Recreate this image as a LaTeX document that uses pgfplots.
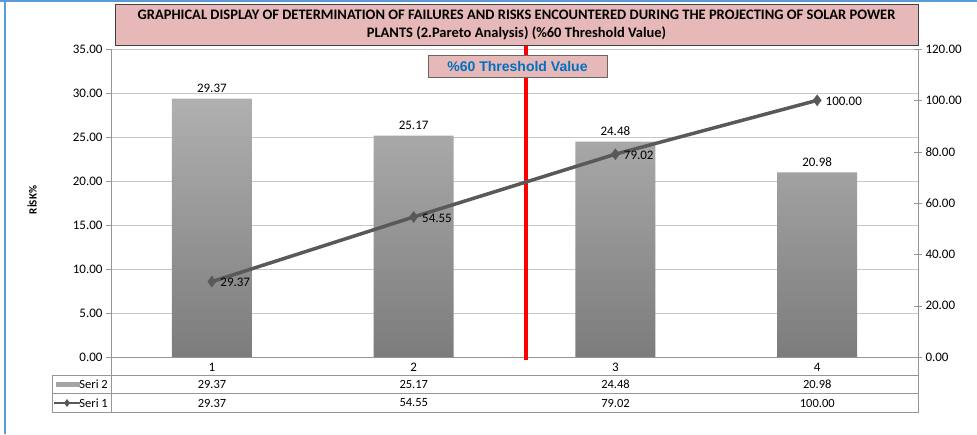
\documentclass[border=0pt]{standalone}
\usepackage{pgfplots}
\pgfplotsset{compat=1.18}
\usepackage{fontspec}
\setmainfont{Carlito}
\newfontfamily\arialfont{Liberation Sans}
\definecolor{pinkbox}{RGB}{230,184,183}
\definecolor{linegray}{RGB}{89,89,89}
\definecolor{gridgray}{RGB}{200,200,200}
\definecolor{axisgray}{RGB}{150,150,150}
\definecolor{threshblue}{RGB}{0,112,192}
\definecolor{frameblue}{RGB}{91,155,213}
\definecolor{bartop}{RGB}{176,176,176}
\definecolor{barbot}{RGB}{124,124,124}
\begin{document}
\begin{tikzpicture}
\begin{scope}[x=1pt,y=1pt]
\useasboundingbox (0,0) rectangle (977,434);
\fill[white] (0,0) rectangle (977,434);
\draw[frameblue, line width=2pt] (5,0) -- (5,434);
\draw[frameblue, line width=2pt] (0,433) -- (977,433);
\end{scope}

\begin{axis}[at={(111pt,77pt)}, anchor=south west, scale only axis,
  width=807pt, height=308pt,
  xmin=0.5, xmax=4.5, ymin=0, ymax=35,
  ytick={0,5,...,35}, xtick={1,2,3,4},
  axis x line*=bottom, axis y line*=left,
  axis line style={-, axisgray},
  ymajorgrids, grid style={gridgray},
  tick align=outside, major tick length=5pt,
  ytick style={axisgray}, xtick style={draw=none},
  tick label style={font=\fontsize{13}{15}\selectfont},
  /pgf/number format/assume math mode=true,
  yticklabel style={/pgf/number format/.cd, fixed, fixed zerofill, precision=2},
  xticklabel style={yshift=2pt},
  clip=false,
]
\addplot[ybar, bar width=80pt, draw=none, top color=bartop, bottom color=barbot,
  nodes near coords={\pgfmathprintnumber[fixed,fixed zerofill,precision=2]{\pgfplotspointmeta}},
  every node near coord/.append style={font=\fontsize{13}{15}\selectfont, text=black, yshift=2pt}]
  coordinates {(1,29.37) (2,25.17) (3,24.48) (4,20.98)};
\addplot[red, line width=4.5pt, forget plot] coordinates {(2.557,-0.35) (2.557,35.4)};
\end{axis}

\begin{axis}[at={(111pt,77pt)}, anchor=south west, scale only axis,
  width=807pt, height=308pt,
  xmin=0.5, xmax=4.5, ymin=0, ymax=120,
  ytick={0,20,...,120},
  axis x line=none, axis y line*=right,
  axis line style={-, axisgray},
  tick align=center, major tick length=8pt,
  ytick style={axisgray},
  tick label style={font=\fontsize{13}{15}\selectfont},
  /pgf/number format/assume math mode=true,
  yticklabel style={/pgf/number format/.cd, fixed, fixed zerofill, precision=2},
  clip=false,
]
\addplot[linegray, line width=3.5pt, mark=diamond*, mark size=5.5pt,
  mark options={fill=linegray, draw=linegray, line width=0.4pt},
  nodes near coords={\pgfmathprintnumber[fixed,fixed zerofill,precision=2]{\pgfplotspointmeta}},
  every node near coord/.append style={font=\fontsize{13}{15}\selectfont, text=black, anchor=west, xshift=5pt, yshift=-1pt}]
  coordinates {(1,29.37) (2,54.55) (3,79.02) (4,100)};
\end{axis}

\begin{scope}[x=1pt,y=1pt]
% y label
\node[rotate=90, font=\bfseries\fontsize{11}{13}\selectfont] at (32,234) {RİSK\%};
% title box
\node[draw=black!75, fill=pinkbox, line width=0.8pt, minimum width=803pt, minimum height=41pt,
  anchor=north west, inner sep=0pt] at (115,430) {};
\node[align=center, font=\bfseries\fontsize{14.5}{18}\selectfont] at (516.5,409.5)
  {GRAPHICAL DISPLAY OF DETERMINATION OF FAILURES AND RISKS ENCOUNTERED DURING THE PROJECTING OF SOLAR POWER\\PLANTS (2.Pareto Analysis) (\%60 Threshold Value)};
% threshold box
\node[draw=black!60, fill=pinkbox, line width=0.8pt, minimum width=179pt, minimum height=22pt, inner sep=0pt,
  font=\arialfont\bfseries\fontsize{14}{16}\selectfont, text=threshblue] at (517.5,368) {\%60 Threshold Value};

% data table
\begin{scope}[draw=axisgray, line width=0.8pt]
\draw (52,59) -- (918,59);
\draw (52,40.5) -- (918,40.5);
\draw (52,21.5) -- (918,21.5);
\draw (52,59) -- (52,21.5);
\draw (111,77) -- (111,21.5);
\draw (918,77) -- (918,21.5);
\end{scope}
\fill[bartop!80!barbot] (56,47.5) rectangle (80,52);
\draw[linegray, line width=2.5pt] (54,31) -- (80,31);
\fill[linegray] (67,35) -- (70,31) -- (67,27) -- (64,31) -- cycle;
\node[anchor=east, font=\fontsize{12.5}{14}\selectfont, inner sep=0pt] at (108,49.5) {Seri 2};
\node[anchor=east, font=\fontsize{12.5}{14}\selectfont, inner sep=0pt] at (108,31) {Seri 1};
\foreach \xx/\va/\vb in {212/29.37/29.37, 413.75/25.17/54.55, 615.5/24.48/79.02, 817.25/20.98/100.00} {
  \node[font=\fontsize{12.5}{14}\selectfont] at (\xx,49.5) {\va};
  \node[font=\fontsize{12.5}{14}\selectfont] at (\xx,31) {\vb};
}
\end{scope}
\end{tikzpicture}
\end{document}
